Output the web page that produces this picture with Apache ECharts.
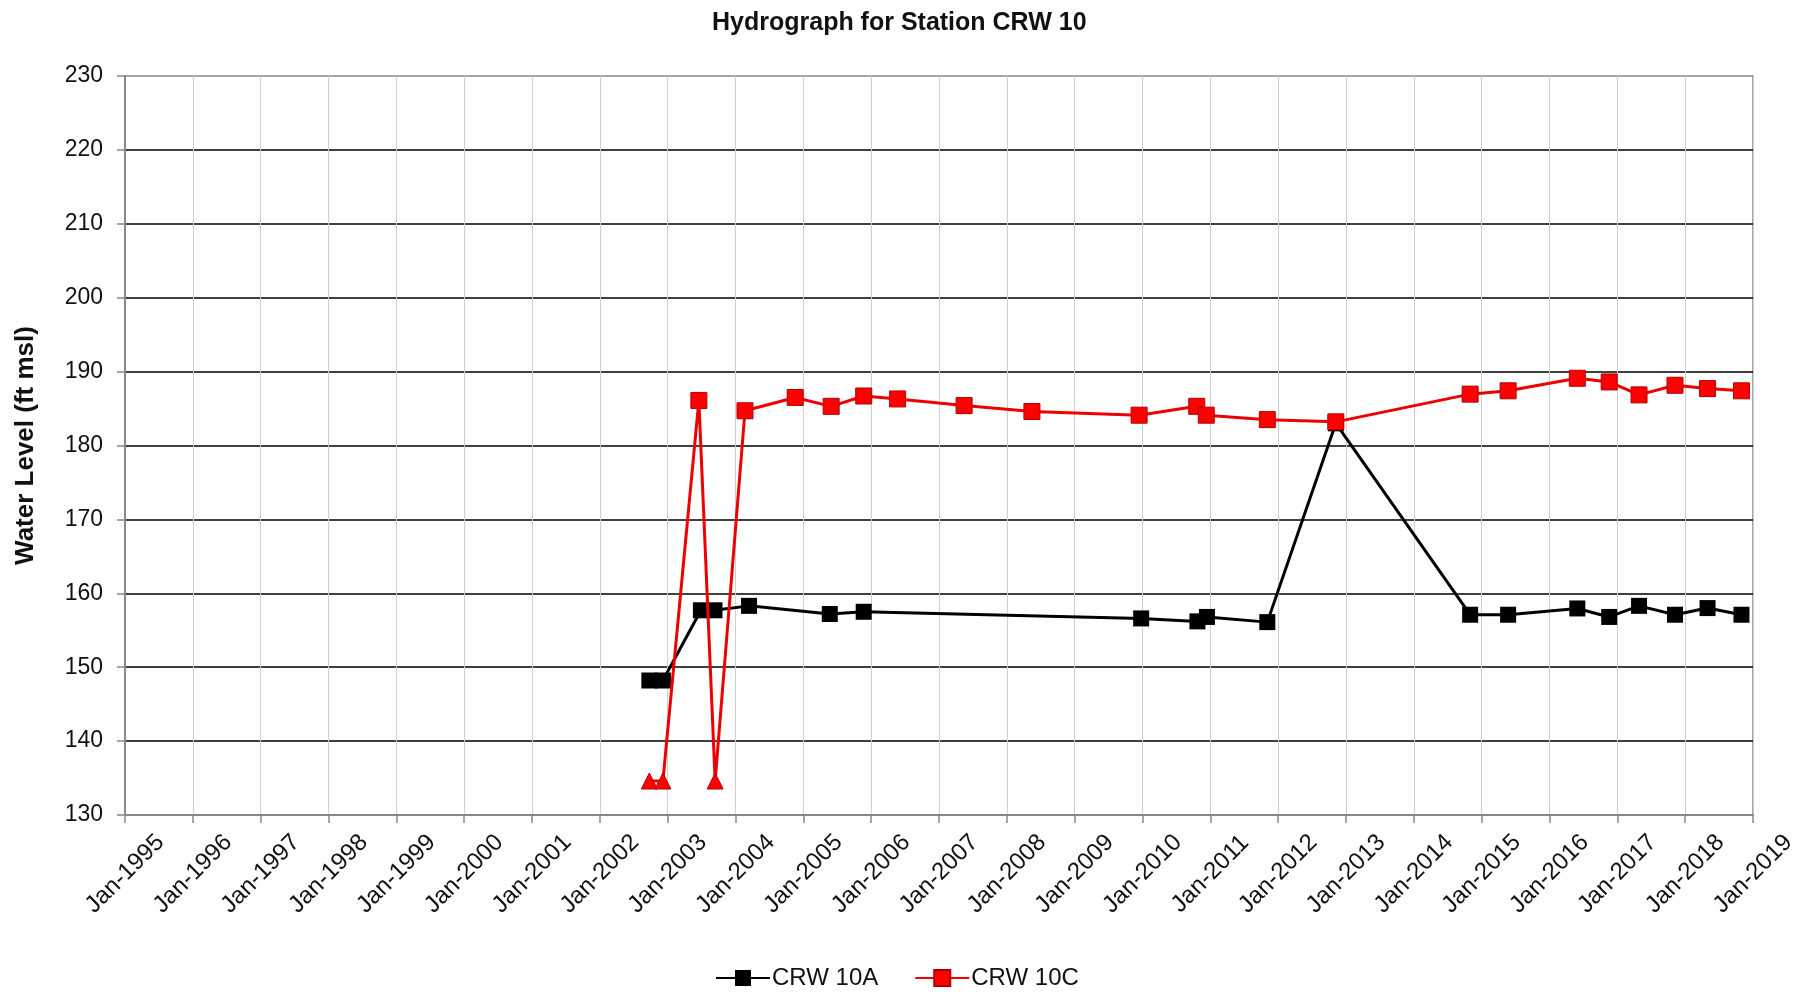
<!DOCTYPE html>
<html>
<head>
<meta charset="utf-8">
<script src="https://cdn.jsdelivr.net/npm/echarts@6/dist/echarts.min.js"></script>
<style>
  html, body { margin: 0; padding: 0; background: #fff; }
  #chart { width: 1812px; height: 992px; }
</style>
</head>
<body>
<div id="chart"></div>
<script>
// ---- Data ----
const chartTitle = 'Hydrograph for Station CRW 10';
const yAxisTitle = 'Water Level (ft msl)';
const xTickLabels = ['Jan-1995','Jan-1996','Jan-1997','Jan-1998','Jan-1999','Jan-2000','Jan-2001','Jan-2002',
  'Jan-2003','Jan-2004','Jan-2005','Jan-2006','Jan-2007','Jan-2008','Jan-2009','Jan-2010','Jan-2011',
  'Jan-2012','Jan-2013','Jan-2014','Jan-2015','Jan-2016','Jan-2017','Jan-2018','Jan-2019'];
const firstTickYear = 1995;
const lastTickYear = 2019;

const seriesNames = ['CRW 10A', 'CRW 10C'];

// CRW 10A (decimal year, water level ft msl)
const crw10aYears  = [2002.73, 2002.93, 2003.49, 2003.69, 2004.20, 2005.39, 2005.89, 2009.98, 2010.81, 2010.95,
  2011.84, 2012.85, 2014.83, 2015.39, 2016.41, 2016.88, 2017.32, 2017.85, 2018.33, 2018.83];
const crw10aLevels = [148.2, 148.2, 157.7, 157.7, 158.3, 157.2, 157.5, 156.6, 156.2, 156.8,
  156.1, 183.0, 157.1, 157.1, 157.95, 156.8, 158.3, 157.1, 158.0, 157.1];

// CRW 10C (decimal year, water level ft msl); dry = reading shown with triangle marker
const crw10cYears  = [2002.73, 2002.93, 2003.46, 2003.70, 2004.14, 2004.88, 2005.41, 2005.89, 2006.39, 2007.37,
  2008.37, 2009.95, 2010.80, 2010.94, 2011.84, 2012.85, 2014.83, 2015.39, 2016.41, 2016.88,
  2017.32, 2017.85, 2018.33, 2018.83];
const crw10cLevels = [134.6, 134.6, 186.1, 134.6, 184.7, 186.5, 185.3, 186.7, 186.3, 185.4,
  184.6, 184.1, 185.3, 184.1, 183.5, 183.2, 186.95, 187.4, 189.1, 188.6,
  186.85, 188.15, 187.7, 187.4];
const crw10cDry = [true, true, false, true, false, false, false, false, false, false,
  false, false, false, false, false, false, false, false, false, false,
  false, false, false, false];

// ---- Chart ----
const FONT = 'Liberation Sans, Arial, sans-serif';
const chart = echarts.init(document.getElementById('chart'), null, { renderer: 'canvas' });

const dataA = crw10aYears.map((x, i) => [x, crw10aLevels[i]]);
const dataC = crw10cYears.map((x, i) => {
  const item = { value: [x, crw10cLevels[i]] };
  if (crw10cDry[i]) item.symbol = 'triangle';
  return item;
});

chart.setOption({
  animation: false,
  backgroundColor: '#ffffff',
  title: {
    text: chartTitle,
    left: 712,
    top: 11,
    padding: 0,
    textStyle: { fontFamily: FONT, fontSize: 25, fontWeight: 'bold', color: '#111' }
  },
  legend: {
    data: seriesNames,
    left: 710,
    top: 961,
    itemWidth: 54,
    itemHeight: 20,
    itemGap: 36,
    textStyle: { fontFamily: FONT, fontSize: 24, color: '#111', padding: [0, 0, 0, -3] }
  },
  grid: {
    left: 125, right: 59, top: 76, bottom: 177,
    show: true, borderColor: '#888', borderWidth: 1.5, backgroundColor: 'transparent'
  },
  xAxis: {
    type: 'value',
    min: firstTickYear,
    max: lastTickYear,
    interval: 1,
    axisLine: { show: true, lineStyle: { color: '#888', width: 2 } },
    axisTick: { show: true, length: 8, lineStyle: { color: '#888', width: 1.5 } },
    splitLine: { show: true, lineStyle: { color: '#cfcfcf', width: 1 } },
    axisLabel: {
      rotate: 45,
      align: 'center',
      verticalAlign: 'middle',
      margin: 59,
      fontFamily: FONT,
      fontSize: 24,
      color: '#111',
      formatter: v => xTickLabels[Math.round(v - firstTickYear)] || ''
    }
  },
  yAxis: {
    type: 'value',
    min: 130,
    max: 230,
    interval: 10,
    name: yAxisTitle,
    nameLocation: 'middle',
    nameGap: 86,
    nameTextStyle: { fontFamily: FONT, fontSize: 26, fontWeight: 'bold', color: '#111' },
    axisLine: { show: true, lineStyle: { color: '#888', width: 2 } },
    axisTick: { show: true, length: 8, lineStyle: { color: '#888', width: 1.5 } },
    splitLine: { show: true, showMinLine: false, showMaxLine: false, lineStyle: { color: '#000', width: 1.5 } },
    axisLabel: { margin: 22, fontFamily: FONT, fontSize: 23, color: '#111' }
  },
  series: [
    {
      name: seriesNames[0],
      type: 'line',
      data: dataA,
      symbol: 'rect',
      symbolSize: 16,
      lineStyle: { color: '#000', width: 3 },
      itemStyle: { color: '#000' },
      z: 3
    },
    {
      name: seriesNames[1],
      type: 'line',
      data: dataC,
      symbol: 'rect',
      symbolSize: 16,
      lineStyle: { color: '#ee0000', width: 3 },
      itemStyle: { color: '#ff0000', borderColor: '#b00000', borderWidth: 1 },
      z: 4
    }
  ]
});
</script>
</body>
</html>
